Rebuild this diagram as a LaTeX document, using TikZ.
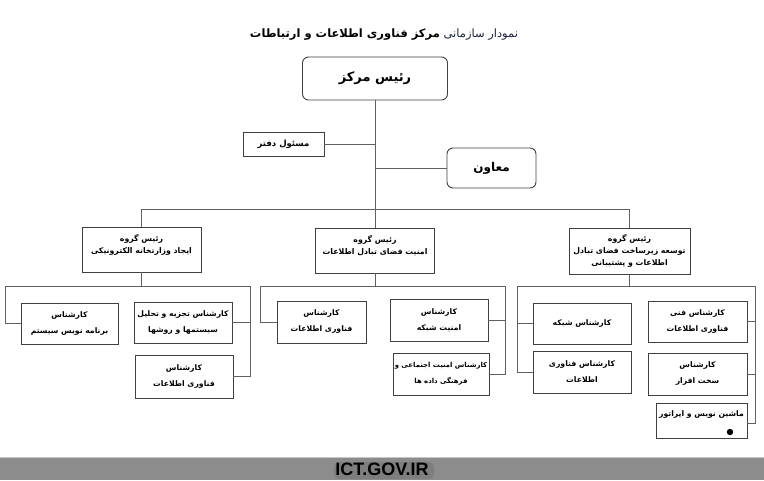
\documentclass[tikz,border=0pt]{standalone}
\usepackage{fontspec}
\setmainfont{Liberation Sans}
\newfontfamily\farsi[Script=Arabic]{DejaVu Sans}
\TeXXeTstate=1
\newcommand{\fa}[1]{\beginR #1\endR}
\definecolor{linec}{HTML}{606060}
\definecolor{boxc}{HTML}{404040}
\definecolor{bannerc}{HTML}{8C8C8C}
\definecolor{titleblue}{HTML}{1E2540}
\tikzset{
  conn/.style={draw=linec, line width=0.9pt},
  basebox/.style={draw=boxc, line width=0.9pt, align=center, inner sep=1pt, fill=white},
  rbox/.style={basebox, rounded corners=6pt},
  sbox/.style={basebox},
  gtext/.style={font=\farsi\bfseries\fontsize{7.8}{12}\selectfont},
  ktext/.style={font=\farsi\bfseries\fontsize{7.7}{16}\selectfont},
}
\begin{document}
\begin{tikzpicture}[x=1pt,y=-1pt]
\useasboundingbox (0,0) rectangle (764,480);
% title
\node[font=\farsi\fontsize{11.5}{14}\selectfont] (title) at (384,35)
  {{\bfseries\fa{مرکز فناوری اطلاعات و ارتباطات}} {\color{titleblue}\fa{نمودار سازمانی}}};
% top level
\node[rbox, minimum width=145, minimum height=43, font=\farsi\bfseries\fontsize{13}{15}\selectfont] (top) at (375,78.5) {\fa{رئیس مرکز}};
\node[sbox, minimum width=81, minimum height=24, font=\farsi\bfseries\fontsize{8.5}{10}\selectfont] (daftar) at (283.5,144.5) {\fa{مسئول  دفتر}};
\node[rbox, minimum width=89, minimum height=40, font=\farsi\bfseries\fontsize{12}{14}\selectfont] (moaven) at (491.5,168) {\fa{معاون}};
% groups
\node[sbox, gtext, minimum width=119, minimum height=45] (g1) at (141.5,249.5)
  {\fa{رئیس گروه}\\\fa{ایجاد  وزارتخانه الکترونیکی}\\\rule{0pt}{9pt}};
\node[sbox, gtext, minimum width=119, minimum height=45] (g2) at (375,250.5)
  {\fa{رئیس گروه}\\\fa{امنیت فضای تبادل اطلاعات}\\\rule{0pt}{9pt}};
\node[sbox, gtext, minimum width=121, minimum height=46] (g3) at (629.5,251)
  {\fa{رئیس گروه}\\\fa{توسعه زیرساخت فضای تبادل}\\\fa{اطلاعات و پشتیبانی}};
% group 1 staff
\node[sbox, ktext, minimum width=97, minimum height=41] (l1) at (69.5,323.5) {\fa{کارشناس}\\\fa{برنامه نویس سیستم}};
\node[sbox, ktext, minimum width=98, minimum height=41] (l2) at (183,322.5) {\fa{کارشناس تجزیه و تحلیل}\\\fa{سیستمها و روشها}};
\node[sbox, ktext, minimum width=98, minimum height=43] (l3) at (184,376.5) {\fa{کارشناس}\\\fa{فناوری اطلاعات}};
% group 2 staff
\node[sbox, ktext, minimum width=89, minimum height=42] (m1) at (321.5,322) {\fa{کارشناس}\\\fa{فناوری اطلاعات}};
\node[sbox, ktext, minimum width=98, minimum height=42] (m2) at (439,320) {\fa{کارشناس}\\\fa{امنیت شبکه}};
\node[sbox, ktext, minimum width=96, minimum height=42, font=\farsi\bfseries\fontsize{6.9}{16}\selectfont] (m3) at (441,374) {\fa{کارشناس امنیت اجتماعی و}\\\fa{فرهنگی داده ها}};
% group 3 staff
\node[sbox, ktext, minimum width=98, minimum height=41] (r1) at (582,323.5) {\fa{کارشناس شبکه}};
\node[sbox, ktext, minimum width=98, minimum height=42] (r2) at (582,372) {\fa{کارشناس  فناوری}\\\fa{اطلاعات}};
\node[sbox, ktext, minimum width=99, minimum height=41] (r3) at (697.5,321.5) {\fa{کارشناس فنی}\\\fa{فناوری اطلاعات}};
\node[sbox, ktext, minimum width=99, minimum height=42] (r4) at (697.5,374) {\fa{کارشناس}\\\fa{سخت افزار}};
\node[sbox, ktext, minimum width=91, minimum height=35] (r5) at (701.5,420.5) {\fa{ماشین نویس و اپراتور}\\[-2pt]\rule{0pt}{7pt}};
\fill (730,432) circle (3.2);
% bus coordinates
\coordinate (busy) at (0,209);
\coordinate (b1L) at (5,286);   \coordinate (b1R) at (250,286);
\coordinate (b2L) at (260,286); \coordinate (b2R) at (505,286);
\coordinate (b3L) at (517,286); \coordinate (b3R) at (755,286);
% connectors top
\draw[conn] (top.south) -- (top.south |- busy);
\draw[conn] (daftar.east) -- (daftar.east -| top.south);
\draw[conn] (moaven.west) -- (moaven.west -| top.south);
\draw[conn] (g1.north) -- (g1.north |- busy) -- (g3.north |- busy) -- (g3.north);
\draw[conn] (g2.north) -- (g2.north |- busy);
% group 1
\draw[conn] (g1.south) -- (g1.south |- b1L);
\draw[conn] (l1.west) -| (b1L) -- (b1R) |- (l3.east);
\draw[conn] (l2.east) -- (l2.east -| b1R);
% group 2
\draw[conn] (g2.south) -- (g2.south |- b2L);
\draw[conn] (m1.west) -| (b2L) -- (b2R) |- (m3.east);
\draw[conn] (m2.east) -- (m2.east -| b2R);
% group 3
\draw[conn] (g3.south) -- (g3.south |- b3L);
\draw[conn] (r2.west) -| (b3L) -- (b3R) |- ([yshift=-2.5pt]r5.east);
\draw[conn] (r1.west) -- (r1.west -| b3L);
\draw[conn] (r3.east) -- (r3.east -| b3R);
\draw[conn] (r4.east) -- (r4.east -| b3R);
% banner
\fill[bannerc] (0,457) rectangle (764,480);
\draw[color=black!22, line width=1pt] (0,457.5) -- (764,457.5);
\fill[black!60, opacity=0.35, rounded corners=5pt] (334,462) rectangle (434,479);
\node[font=\bfseries\fontsize{18}{20}\selectfont] (site) at (382,469) {ICT.GOV.IR};
\end{tikzpicture}
\end{document}
